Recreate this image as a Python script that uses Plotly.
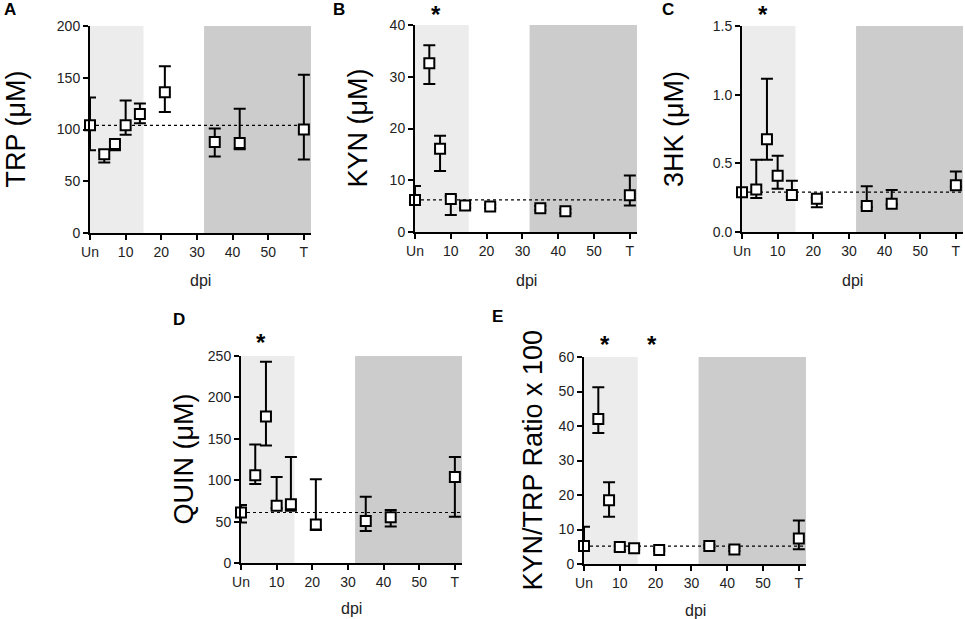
import plotly.graph_objects as go

W, H = 965, 619

# sampling days (Un = uninfected at 0, T = terminal at 60)
dpi = [0, 4, 7, 10, 14, 21, 35, 42, 60]
dpi_ticks = [0, 10, 20, 30, 40, 50, 60]
dpi_labels = ['Un', '10', '20', '30', '40', '50', 'T']
light_band = [0, 15]
dark_band = [32, 62]

# A: TRP
trp_mean = [104, 76, 86, 104, 115, 136, 88, 87, 100]
trp_hi = [131, 80, 88, 128, 125, 161, 101, 120, 153]
trp_lo = [80, 68, 80, 95, 106, 117, 74, 81, 71]

# B: KYN
kyn_mean = [6.2, 32.6, 16.1, 6.4, 5.1, 4.95, 4.6, 4.0, 7.1]
kyn_hi = [8.9, 36.1, 18.6, 6.9, 5.5, 5.3, 5.0, 4.4, 10.9]
kyn_lo = [5.8, 28.6, 11.8, 3.3, 4.7, 4.6, 4.2, 3.6, 5.1]

# C: 3HK
hk_mean = [0.29, 0.31, 0.676, 0.41, 0.27, 0.242, 0.19, 0.206, 0.34]
hk_hi = [0.30, 0.526, 1.115, 0.555, 0.373, 0.25, 0.334, 0.305, 0.44]
hk_lo = [0.28, 0.247, 0.526, 0.315, 0.26, 0.18, 0.18, 0.20, 0.33]

# D: QUIN
quin_mean = [61, 106, 177, 69, 71, 46.5, 50.6, 55.4, 104]
quin_hi = [70, 143, 243, 104, 128, 101, 80, 64, 128]
quin_lo = [49, 95.5, 142, 66, 63, 40, 38.5, 44, 56]

# E: KYN/TRP ratio x 100
ratio_mean = [5.2, 42, 18.5, 4.9, 4.6, 4.05, 5.2, 4.2, 7.4]
ratio_hi = [10.8, 51.2, 23.7, 5.3, 5.0, 4.4, 5.6, 4.6, 12.6]
ratio_lo = [4.8, 38, 13.7, 3.9, 4.2, 3.7, 4.8, 3.8, 4.3]

panels = [
    dict(letter='A', ytitle='TRP (\u03bcM)', mean=trp_mean, hi=trp_hi, lo=trp_lo,
         yrange=[0, 200], dtick=50, fmt='', stars=[]),
    dict(letter='B', ytitle='KYN (\u03bcM)', mean=kyn_mean, hi=kyn_hi, lo=kyn_lo,
         yrange=[0, 40], dtick=10, fmt='', stars=[6]),
    dict(letter='C', ytitle='3HK (\u03bcM)', mean=hk_mean, hi=hk_hi, lo=hk_lo,
         yrange=[0, 1.5], dtick=0.5, fmt='.1f', stars=[6]),
    dict(letter='D', ytitle='QUIN (\u03bcM)', mean=quin_mean, hi=quin_hi, lo=quin_lo,
         yrange=[0, 250], dtick=50, fmt='', stars=[5.5]),
    dict(letter='E', ytitle='KYN/TRP Ratio x 100', mean=ratio_mean, hi=ratio_hi, lo=ratio_lo,
         yrange=[0, 60], dtick=10, fmt='', stars=[6, 19]),
]

# pixel boxes of each plot area: (left, right, top, bottom)
boxes = [(90, 311, 26, 233), (415, 637, 25, 232), (742, 963, 26, 232),
         (241, 462, 356, 563), (584, 806, 357, 564)]
ytitle_x = [15, 357, 674, 183, 532]
letter_pos = [(10, 10), (339, 9), (668, 9), (179, 319), (497, 316)]
star_y = [10, 10, 10, 338, 340]
dpi_y = [280, 280, 280, 608, 610]

font_family = 'Liberation Sans, Arial, sans-serif'

fig = go.Figure()
annotations = []
shapes = []

for k, (p, box) in enumerate(zip(panels, boxes), start=1):
    l, r, t, b = box
    xa = 'x' if k == 1 else f'x{k}'
    ya = 'y' if k == 1 else f'y{k}'
    xkey = 'xaxis' if k == 1 else f'xaxis{k}'
    ykey = 'yaxis' if k == 1 else f'yaxis{k}'

    err_plus = [h - m for h, m in zip(p['hi'], p['mean'])]
    err_minus = [m - lo for m, lo in zip(p['mean'], p['lo'])]

    fig.add_trace(go.Scatter(
        x=dpi, y=p['mean'], mode='markers', xaxis=xa, yaxis=ya,
        marker=dict(symbol='square', size=10, color='white',
                    line=dict(color='black', width=2)),
        error_y=dict(type='data', symmetric=False, array=err_plus,
                     arrayminus=err_minus, color='black', thickness=2, width=6),
        cliponaxis=False, showlegend=False))

    fig.layout[xkey] = dict(
        domain=[l / W, r / W], anchor=ya, range=[0, 62], automargin=False,
        tickvals=dpi_ticks, ticktext=dpi_labels,
        showline=True, linewidth=2, linecolor='black',
        ticks='outside', ticklen=5, tickwidth=2, tickcolor='black',
        showgrid=False, zeroline=False,
        tickfont=dict(size=14, color='#222', family=font_family))
    fig.layout[ykey] = dict(
        domain=[1 - b / H, 1 - t / H], anchor=xa, range=p['yrange'], automargin=False,
        dtick=p['dtick'], tick0=0, tickformat=p['fmt'],
        showline=True, linewidth=2, linecolor='black',
        ticks='outside', ticklen=5, tickwidth=2, tickcolor='black',
        showgrid=False, zeroline=False,
        tickfont=dict(size=14, color='#222', family=font_family))

    # shaded phases
    shapes.append(dict(type='rect', xref=xa, yref=f'{ya} domain',
                       x0=light_band[0], x1=light_band[1], y0=0, y1=1,
                       fillcolor='#ececec', line=dict(width=0), layer='below'))
    shapes.append(dict(type='rect', xref=xa, yref=f'{ya} domain',
                       x0=dark_band[0], x1=dark_band[1], y0=0, y1=1,
                       fillcolor='#cccccc', line=dict(width=0), layer='below'))
    # baseline at uninfected value
    shapes.append(dict(type='line', xref=f'{xa} domain', yref=ya,
                       x0=0, x1=1, y0=p['mean'][0], y1=p['mean'][0],
                       line=dict(color='black', width=1.2, dash='dot'), layer='below'))

    annotations.append(dict(
        x=ytitle_x[k - 1] / W, y=1 - (t + b) / 2 / H, xref='paper', yref='paper',
        text=p['ytitle'], textangle=-90, showarrow=False,
        xanchor='center', yanchor='middle',
        font=dict(size=27, color='black', family=font_family)))
    annotations.append(dict(
        x=(l + r) / 2 / W, y=1 - dpi_y[k - 1] / H, xref='paper', yref='paper',
        text='dpi', showarrow=False, xanchor='center', yanchor='middle',
        font=dict(size=16, color='#222', family=font_family)))
    lx, ly = letter_pos[k - 1]
    annotations.append(dict(
        x=lx / W, y=1 - ly / H, xref='paper', yref='paper',
        text=f"<b>{p['letter']}</b>", showarrow=False,
        xanchor='center', yanchor='middle',
        font=dict(size=17, color='black', family=font_family)))
    for s in p['stars']:
        annotations.append(dict(
            x=s, y=1 - (star_y[k - 1] + 4) / H, xref=xa, yref='paper',
            text='<b>*</b>', showarrow=False, xanchor='center', yanchor='middle',
            font=dict(size=24, color='black', family=font_family)))

fig.update_layout(
    width=W, height=H,
    margin=dict(l=0, r=0, t=0, b=0),
    paper_bgcolor='white', plot_bgcolor='white',
    shapes=shapes, annotations=annotations,
    font=dict(family=font_family),
    showlegend=False)

fig.write_html("out.html", config={'displayModeBar': False},
               post_script="document.body.style.margin='0';document.body.style.overflow='hidden';")
